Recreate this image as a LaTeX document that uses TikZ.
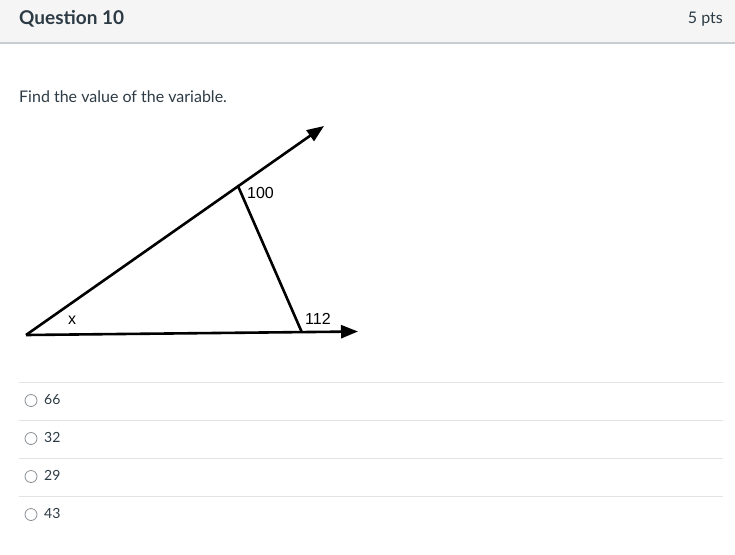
\documentclass[tikz,border=0pt]{standalone}
\usepackage{fontspec}
\setmainfont{Lato}
\newfontfamily\figfont{Liberation Sans}
\usetikzlibrary{arrows.meta}
\definecolor{hdrbg}{HTML}{F5F5F5}
\definecolor{hdrline}{HTML}{C7CDD1}
\definecolor{txt}{HTML}{2D3B45}
\definecolor{sep}{HTML}{E3E3E3}
\definecolor{radio}{HTML}{8A8F94}
\tikzset{
  ray/.style={line width=2.6pt, black, -{Triangle[length=17pt,width=13pt]}},
  seg/.style={line width=2.6pt, black},
  lbl/.style={font=\figfont\fontsize{16}{18}\selectfont, inner sep=0pt, anchor=west},
  answer/.style={font=\fontsize{14}{16}\selectfont, text=txt, inner sep=0pt, anchor=west},
  radiobtn/.style={circle, draw=radio, line width=0.8pt, minimum size=12pt, inner sep=0pt},
  sepline/.style={draw=sep, line width=1pt}
}
\begin{document}
\begin{tikzpicture}[x=1pt,y=-1pt]
\useasboundingbox (0,0) rectangle (735,554);
\fill[white] (0,0) rectangle (735,554);
\fill[hdrbg] (0,0) rectangle (735,43);
\draw[hdrline, line width=1.2pt] (0,43) -- (735,43);
\node[font=\bfseries\fontsize{19}{21}\selectfont, text=txt, anchor=west, inner sep=0pt] (title) at (19,19) {Question 10};
\node[font=\fontsize{16}{18}\selectfont, text=txt, anchor=east, inner sep=0pt] (pts) at (723,19) {5 pts};
\node[font=\fontsize{16}{18}\selectfont, text=txt, anchor=west, inner sep=0pt] (prompt) at (19,97) {Find the value of the variable.};
% figure
\coordinate (A) at (26,335);
\coordinate (B) at (238,186);
\coordinate (C) at (301.5,331.5);
\coordinate (U) at (324,126);
\coordinate (L) at (358,331.5);
\draw[ray] (A) -- (U);
\draw[ray] (A) -- (L);
\draw[seg, line cap=round] (B) -- (C);
\node[lbl] (l100) at (247,193) {100};
\node[lbl] (l112) at (305,319) {112};
\node[lbl] (lx) at (68,320) {x};
% answers
\foreach \y in {382,420,458,496} \draw[sepline] (19,\y) -- (723,\y);
\node[radiobtn] (r1) at (31,400.5) {};
\node[answer] (a1) at (44,399.5) {66};
\node[radiobtn] (r2) at (31,438.5) {};
\node[answer] (a2) at (44,437.5) {32};
\node[radiobtn] (r3) at (31,476.5) {};
\node[answer] (a3) at (44,475.5) {29};
\node[radiobtn] (r4) at (31,514.5) {};
\node[answer] (a4) at (44,513.5) {43};
\end{tikzpicture}
\end{document}
